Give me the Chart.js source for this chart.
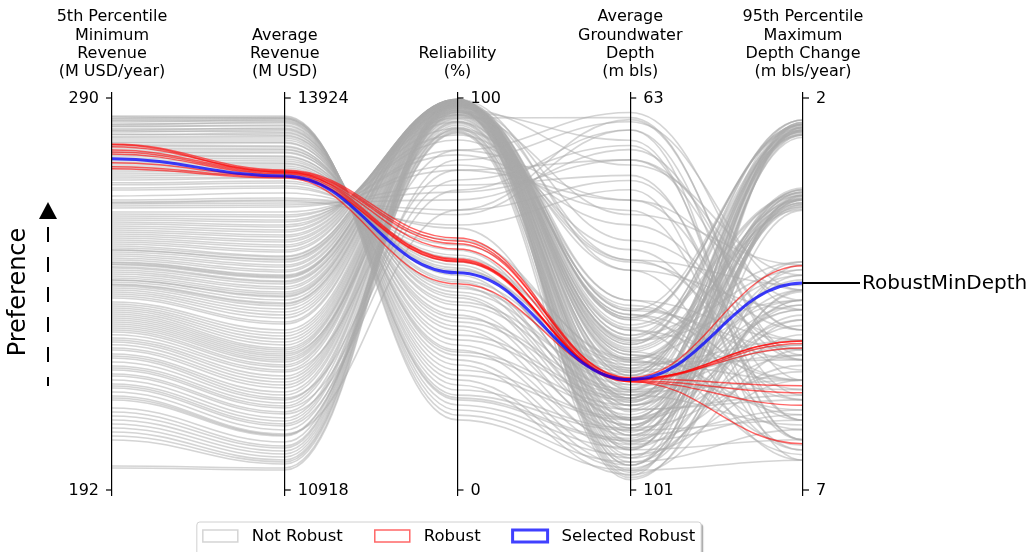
<!DOCTYPE html>
<html lang="en">
<head>
  <meta charset="UTF-8">
  <title>Robustness Trade-offs</title>
  <script src="https://cdn.jsdelivr.net/npm/chart.js"></script>
  <style>
    body { margin: 0; background: #fff; }
    #wrap { width: 1032px; height: 552px; }
  </style>
</head>
<body>
  <div id="wrap">
    <canvas id="paxChart" width="1032" height="552"></canvas>
  </div>

  <script>
    // axis titles, one entry per line of text
    const axisTitles = [
      ['5th Percentile', 'Minimum', 'Revenue', '(M USD/year)'],
      ['Average', 'Revenue', '(M USD)'],
      ['Reliability', '(%)'],
      ['Average', 'Groundwater', 'Depth', '(m bls)'],
      ['95th Percentile', 'Maximum', 'Depth Change', '(m bls/year)']
    ];
    // value at the top (preferred end) and bottom of each axis
    const axisTop = [290, 13924, 100, 63, 2];
    const axisBottom = [192, 10918, 0, 101, 7];
    const topLabels = ['290', '13924', '100', '63', '2'];
    const bottomLabels = ['192', '10918', '0', '101', '7'];

    // [min revenue, avg revenue, reliability, gw depth, depth change]
    const notRobust = [
      [285.5, 13786, 17.9, 99.1, 6.62],
      [285.3, 13770, 19.1, 98.3, 6.23],
      [285, 13778, 20.4, 97.6, 5.60],
      [284.8, 13770, 21.7, 96.9, 4.77],
      [284.5, 13763, 23.0, 96.2, 4.58],
      [284.3, 13748, 23.5, 96.0, 2.34],
      [284, 13755, 24.2, 95.2, 6.11],
      [283.5, 13732, 25.5, 95.0, 5.49],
      [283.3, 13740, 26.8, 99.5, 5.21],
      [283, 13709, 28.1, 98.9, 4.47],
      [282.8, 13717, 29.3, 94.2, 4.19],
      [282.3, 13686, 30.6, 94.0, 3.28],
      [282, 13694, 31.9, 98.6, 2.38],
      [281.8, 13663, 33.2, 97.9, 5.02],
      [281.5, 13678, 34.4, 93.2, 5.85],
      [281, 13640, 35.2, 92.8, 4.09],
      [280.8, 13655, 35.7, 97.1, 6.36],
      [280.3, 13632, 38.3, 92.3, 4.45],
      [280, 13617, 37.0, 96.3, 6.04],
      [279.5, 13602, 40.8, 96.6, 5.41],
      [279, 13586, 39.5, 92.1, 2.41],
      [278.8, 13579, 42.9, 91.8, 4.70],
      [278.3, 13556, 41.8, 95.2, 4.64],
      [278, 13548, 44.6, 95.7, 3.30],
      [277.5, 13533, 43.9, 91.5, 5.60],
      [277, 13525, 47.2, 91.3, 5.15],
      [276.5, 13510, 45.9, 94.7, 3.40],
      [276.3, 13502, 49.0, 94.7, 4.26],
      [275.8, 13479, 48.0, 90.3, 5.19],
      [275.5, 13471, 50.5, 90.8, 5.72],
      [275, 13456, 49.7, 94.0, 4.83],
      [274.5, 13441, 52.0, 94.2, 4.90],
      [274, 13425, 51.5, 89.6, 2.28],
      [273.5, 13418, 53.6, 89.9, 5.28],
      [273, 13402, 53.1, 93.2, 5.79],
      [272.5, 13387, 54.8, 93.7, 3.24],
      [272, 13372, 55.6, 89.2, 4.58],
      [271.5, 13364, 56.1, 89.4, 5.98],
      [271, 13349, 56.6, 92.5, 3.17],
      [270.5, 13341, 57.4, 92.8, 4.32],
      [270, 13318, 58.2, 88.6, 5.34],
      [269.5, 13310, 59.2, 88.9, 5.09],
      [268.8, 13287, 59.9, 91.8, 6.17],
      [268.3, 13272, 61.2, 92.1, 2.43],
      [267.5, 13249, 62.5, 88.2, 4.26],
      [267, 13234, 63.8, 88.4, 6.55],
      [265.5, 13195, 66.8, 91.5, 4.64],
      [264.5, 13157, 70.2, 66.1, 5.60],
      [264, 13142, 71.4, 65.1, 5.28],
      [263.8, 13134, 67.6, 71.9, 6.62],
      [263.5, 13119, 74.0, 68.0, 4.96],
      [263, 13103, 76.0, 69.0, 4.58],
      [262.5, 13088, 77.8, 70.5, 6.11],
      [261.5, 13050, 81.6, 72.9, 4.45],
      [261, 13027, 82.9, 73.9, 6.36],
      [260.5, 13011, 85.5, 75.3, 5.21],
      [260, 12988, 86.7, 64.4, 4.70],
      [259.5, 12973, 89.3, 77.7, 5.85],
      [259, 12950, 90.6, 78.9, 5.09],
      [258.5, 12935, 92.3, 79.7, 4.70],
      [258, 12912, 93.9, 83.1, 5.72],
      [257.5, 12896, 94.9, 64.9, 5.34],
      [257, 12873, 95.7, 74.3, 4.13],
      [256.5, 12858, 96.4, 67.1, 6.36],
      [256, 12835, 96.9, 84.0, 6.49],
      [255.5, 12820, 97.4, 69.5, 4.26],
      [255, 12797, 98.0, 84.3, 2.34],
      [254.5, 12781, 98.2, 84.5, 2.34],
      [254, 12758, 98.5, 85.3, 3.24],
      [253.5, 12743, 98.7, 86.0, 2.41],
      [253, 12712, 98.5, 82.6, 6.11],
      [252.5, 12705, 99.0, 87.4, 3.30],
      [252, 12689, 99.0, 86.7, 2.43],
      [252, 12682, 98.0, 76.8, 4.96],
      [251.5, 12666, 99.2, 88.9, 3.24],
      [251, 12643, 99.2, 88.2, 3.34],
      [250.5, 12628, 99.5, 90.3, 2.38],
      [250, 12605, 99.5, 89.6, 2.37],
      [249.5, 12590, 99.5, 91.8, 3.36],
      [249, 12567, 99.0, 83.6, 5.21],
      [248.8, 12559, 99.5, 91.1, 3.17],
      [248.5, 12551, 99.2, 86.0, 4.09],
      [248.3, 12544, 99.7, 93.2, 2.31],
      [247.8, 12521, 99.7, 92.5, 2.47],
      [247.5, 12513, 97.7, 78.7, 5.47],
      [247, 12498, 99.7, 94.7, 3.20],
      [246.5, 12475, 99.5, 84.5, 5.85],
      [246, 12459, 99.7, 96.2, 2.47],
      [245.5, 12436, 99.7, 94.0, 3.38],
      [245, 12421, 99.5, 97.6, 4.58],
      [244.5, 12398, 99.5, 95.4, 2.31],
      [244.5, 12406, 99.5, 87.6, 6.23],
      [244, 12375, 99.2, 99.1, 3.43],
      [243.5, 12352, 99.2, 96.9, 3.26],
      [243.3, 12344, 99.2, 86.5, 4.19],
      [243, 12329, 99.0, 85.5, 5.60],
      [242.5, 12306, 99.0, 98.3, 4.83],
      [242, 12283, 98.7, 86.9, 2.28],
      [241.5, 12260, 98.7, 99.6, 2.38],
      [241, 12237, 98.5, 88.4, 3.28],
      [240.5, 12206, 98.7, 87.9, 6.43],
      [240, 12191, 98.2, 89.9, 2.43],
      [239, 12145, 98.5, 91.3, 2.34],
      [238.5, 12122, 98.2, 92.1, 2.46],
      [238, 12099, 98.2, 92.8, 3.17],
      [237.5, 12076, 98.0, 93.4, 3.20],
      [237, 12053, 98.0, 94.2, 2.41],
      [236.5, 12030, 97.7, 95.0, 2.33],
      [236, 12007, 97.7, 95.7, 3.30],
      [235.5, 11992, 97.4, 96.3, 3.33],
      [235, 11976, 97.4, 97.1, 2.37],
      [234.5, 11961, 91.8, 78.7, 4.39],
      [234, 11946, 97.2, 98.6, 3.24],
      [233.5, 11930, 96.9, 97.9, 2.42],
      [233, 11915, 96.9, 99.8, 4.45],
      [232.5, 11900, 96.7, 99.3, 3.25],
      [232, 11877, 96.4, 82.6, 5.09],
      [231.5, 11861, 96.4, 83.4, 5.34],
      [230.8, 11838, 96.2, 84.0, 5.60],
      [230, 11823, 86.7, 72.9, 5.34],
      [229.5, 11792, 95.9, 85.5, 6.62],
      [229, 11769, 95.7, 86.3, 2.28],
      [228.3, 11746, 95.7, 86.9, 2.47],
      [227.5, 11723, 95.4, 87.6, 3.42],
      [227, 11700, 95.2, 88.4, 3.39],
      [226, 11669, 94.9, 89.2, 2.40],
      [225.5, 11646, 94.6, 89.9, 2.32],
      [225, 11623, 81.6, 69.0, 4.96],
      [224, 11608, 94.1, 91.3, 3.15],
      [223, 11585, 93.9, 92.1, 3.29],
      [222.5, 11562, 93.6, 92.8, 4.70],
      [222, 11547, 79.1, 67.6, 6.11],
      [221, 11516, 93.1, 94.2, 5.28],
      [220.5, 11501, 76.5, 66.1, 6.36],
      [219.5, 11470, 92.6, 95.7, 5.98],
      [218.5, 11447, 92.3, 95.0, 2.50],
      [218, 11424, 92.1, 97.1, 2.41],
      [217.5, 11409, 84.2, 65.3, 4.45],
      [216.5, 11378, 91.6, 98.6, 3.30],
      [215.5, 11347, 71.4, 71.0, 5.79],
      [215, 11340, 91.3, 96.5, 3.36],
      [214.5, 11332, 91.1, 100.0, 4.13],
      [212.5, 11286, 99.5, 83.6, 2.38],
      [211.5, 11255, 99.7, 79.7, 6.49],
      [210.5, 11240, 99.0, 85.0, 3.22],
      [209.5, 11217, 98.7, 84.3, 2.36],
      [208.5, 11194, 98.5, 86.5, 4.58],
      [207.5, 11171, 98.2, 87.2, 3.20],
      [206.5, 11148, 98.0, 87.9, 6.04],
      [205.5, 11133, 97.7, 88.6, 5.60],
      [204.5, 11117, 97.4, 89.4, 5.15],
      [198, 11087, 96.9, 90.8, 2.45],
      [197.5, 11071, 96.4, 92.3, 3.34]
    ];

    const robust = [
      [278.5, 13372, 64.3, 90.2, 5.67],
      [277.8, 13364, 63.5, 90.4, 5.76],
      [277, 13356, 62.8, 90.1, 4.14],
      [276.5, 13349, 61.5, 90.5, 6.41],
      [276, 13341, 58.7, 90.3, 5.10],
      [273.8, 13326, 58.4, 90.3, 5.10],
      [272.8, 13318, 58.2, 90.4, 5.13],
      [272.3, 13310, 52.6, 90.2, 5.19],
      [278.3, 13356, 58.9, 90.5, 5.92]
    ];

    const selectedRobust = [274.8, 13326, 55.4, 90.3, 4.36];
    const selectedName = 'RobustMinDepth';

    const GREY = 'rgba(169,169,169,0.5)';
    const RED = 'rgba(255,0,0,0.6)';
    const BLUE = 'rgba(0,0,255,0.75)';
    const FONT = '"DejaVu Sans", "Liberation Sans", sans-serif';

    // every axis is scaled to 0..1, 1 being the preferred end
    const toUnit = row => row.map((v, i) => ({
      x: i,
      y: (v - axisBottom[i]) / (axisTop[i] - axisBottom[i])
    }));

    const makeLines = (rows, label, color, width, order) => rows.map(r => ({
      label: label,
      data: toUnit(r),
      borderColor: color,
      borderWidth: width,
      pointRadius: 0,
      tension: 0.4,
      order: order
    }));

    const datasets = [
      ...makeLines([selectedRobust], 'Selected Robust', BLUE, 3, 0),
      ...makeLines(robust, 'Robust', RED, 1.5, 1),
      ...makeLines(notRobust, 'Not Robust', GREY, 1.6, 2)
    ];

    // flat tangents where each line crosses an axis
    const flatJoins = {
      id: 'flatJoins',
      beforeDatasetDraw(chart, args) {
        const meta = args.meta;
        const pts = meta.data;
        const k = 0.42;
        for (let i = 0; i < pts.length; i++) {
          const p = pts[i];
          const prev = pts[i - 1];
          const next = pts[i + 1];
          p.cp1x = prev ? p.x - (p.x - prev.x) * k : p.x;
          p.cp1y = p.y;
          p.cp2x = next ? p.x + (next.x - p.x) * k : p.x;
          p.cp2y = p.y;
        }
        meta.dataset._pointsUpdated = true;
        meta.dataset._path = undefined;
      }
    };

    const decorations = {
      id: 'decorations',
      afterDraw(chart) {
        const ctx = chart.ctx;
        const xs = chart.scales.x;
        const ys = chart.scales.y;
        const yTop = ys.getPixelForValue(1);
        const yBot = ys.getPixelForValue(0);
        ctx.save();
        ctx.fillStyle = '#000';
        ctx.strokeStyle = '#000';
        ctx.lineWidth = 1.2;

        // end ticks and labels
        ctx.font = '16px ' + FONT;
        ctx.textBaseline = 'middle';
        for (let i = 0; i < axisTop.length; i++) {
          const x = xs.getPixelForValue(i);
          const dir = i === 0 ? -1 : 1;
          ctx.textAlign = i === 0 ? 'right' : 'left';
          [[yTop, topLabels[i]], [yBot, bottomLabels[i]]].forEach(([y, txt]) => {
            ctx.beginPath();
            ctx.moveTo(x, y);
            ctx.lineTo(x + dir * 6, y);
            ctx.stroke();
            ctx.fillText(txt, x + dir * 13, y + 1);
          });

          // titles stacked upwards from the bottom line
          ctx.textAlign = 'center';
          const lines = axisTitles[i];
          lines.forEach((t, j) => {
            ctx.fillText(t, x, 72 - (lines.length - 1 - j) * 18.3);
          });
        }

        // preference arrow
        ctx.save();
        ctx.translate(19, 292);
        ctx.rotate(-Math.PI / 2);
        ctx.font = '24px ' + FONT;
        ctx.textAlign = 'center';
        ctx.fillText('Preference', 0, 0);
        ctx.restore();
        ctx.lineWidth = 2;
        ctx.setLineDash([15, 15]);
        ctx.beginPath();
        ctx.moveTo(48, 227);
        ctx.lineTo(48, 386);
        ctx.stroke();
        ctx.setLineDash([]);
        ctx.beginPath();
        ctx.moveTo(48, 202);
        ctx.lineTo(39, 219);
        ctx.lineTo(57, 219);
        ctx.closePath();
        ctx.fill();

        // label for the selected solution
        const last = selectedRobust.length - 1;
        const sx = xs.getPixelForValue(last);
        const sy = ys.getPixelForValue(toUnit(selectedRobust)[last].y);
        ctx.beginPath();
        ctx.moveTo(sx, sy);
        ctx.lineTo(sx + 57, sy);
        ctx.stroke();
        ctx.font = '20px ' + FONT;
        ctx.textAlign = 'left';
        ctx.fillText(selectedName, sx + 59, sy + 1);

        // legend
        const items = [
          { text: 'Not Robust', color: GREY, width: 1.5 },
          { text: 'Robust', color: RED, width: 1.5 },
          { text: 'Selected Robust', color: BLUE, width: 3 }
        ];
        ctx.font = '16.5px ' + FONT;
        const boxW = 35, boxH = 12, gapText = 14, gapItem = 32;
        const widths = items.map(it => boxW + gapText + ctx.measureText(it.text).width);
        const total = widths.reduce((a, b) => a + b, 0) + gapItem * (items.length - 1);
        let lx = 449 - total / 2;
        ctx.save();
        ctx.shadowColor = 'rgba(0,0,0,0.35)';
        ctx.shadowOffsetX = 2;
        ctx.shadowOffsetY = 2;
        ctx.shadowBlur = 1;
        ctx.fillStyle = '#fff';
        ctx.beginPath();
        ctx.roundRect(lx - 6, 522, total + 12, 40, 3);
        ctx.fill();
        ctx.restore();
        ctx.strokeStyle = '#d0d0d0';
        ctx.lineWidth = 1;
        ctx.beginPath();
        ctx.roundRect(lx - 6, 522, total + 12, 40, 3);
        ctx.stroke();
        items.forEach((it, i) => {
          ctx.strokeStyle = it.color;
          ctx.lineWidth = it.width;
          ctx.strokeRect(lx, 530, boxW, boxH);
          ctx.fillStyle = '#000';
          ctx.textAlign = 'left';
          ctx.fillText(it.text, lx + boxW + gapText, 537);
          lx += widths[i] + gapItem;
        });
        ctx.restore();
      }
    };

    const padFrac = 6 / 392;
    const ctx = document.getElementById('paxChart').getContext('2d');
    new Chart(ctx, {
      type: 'line',
      data: { datasets: datasets },
      options: {
        responsive: false,
        animation: false,
        layout: { padding: { left: 112, right: 229, top: 92, bottom: 56 } },
        scales: {
          x: {
            type: 'linear',
            min: 0,
            max: axisTop.length - 1,
            border: { display: false },
            ticks: { display: false, stepSize: 1 },
            grid: { color: '#000', lineWidth: 1.2, drawTicks: false, z: 1 }
          },
          y: {
            display: false,
            min: -padFrac,
            max: 1 + padFrac
          }
        },
        plugins: {
          legend: { display: false },
          tooltip: { enabled: false }
        }
      },
      plugins: [flatJoins, decorations]
    });
  </script>
</body>
</html>
